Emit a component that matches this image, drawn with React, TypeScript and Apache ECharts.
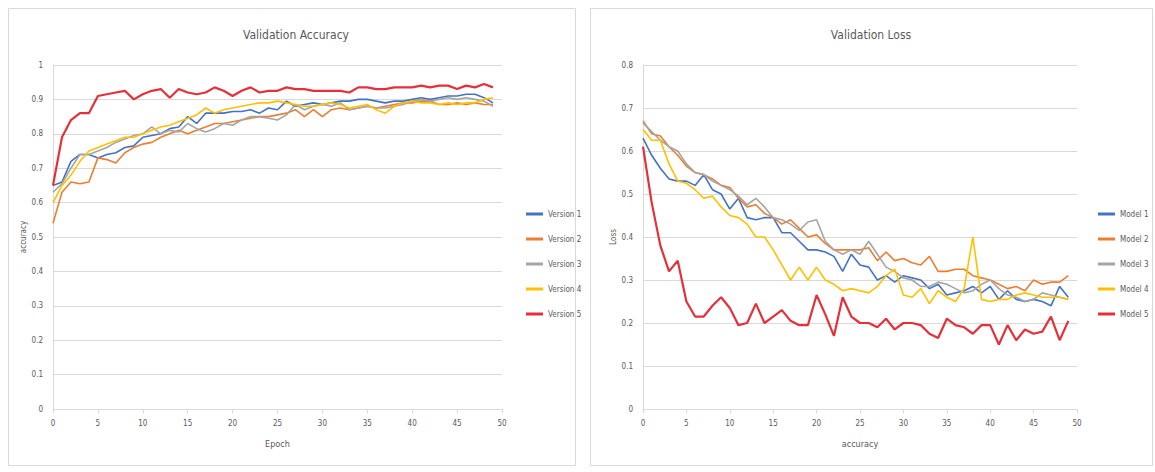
import React, { useEffect, useRef } from "react";
import * as echarts from "echarts";

const epochs: number[] = Array.from({ length: 50 }, (_, i) => i);

const accNames = ["Version 1", "Version 2", "Version 3", "Version 4", "Version 5"];
const lossNames = ["Model 1", "Model 2", "Model 3", "Model 4", "Model 5"];
const colors = ["#4472C4", "#ED7D31", "#A5A5A5", "#FFC000", "#E5303A"];

const accV1 = [0.65, 0.66, 0.72, 0.74, 0.74, 0.73, 0.74, 0.745, 0.76, 0.765, 0.79, 0.795, 0.8, 0.815, 0.82, 0.85, 0.83, 0.86, 0.86, 0.86, 0.865, 0.865, 0.87, 0.86, 0.875, 0.87, 0.895, 0.88, 0.885, 0.89, 0.885, 0.89, 0.895, 0.895, 0.9, 0.9, 0.895, 0.89, 0.895, 0.895, 0.9, 0.905, 0.9, 0.905, 0.91, 0.91, 0.915, 0.915, 0.905, 0.89];
const accV2 = [0.54, 0.63, 0.66, 0.655, 0.66, 0.73, 0.725, 0.715, 0.745, 0.76, 0.77, 0.775, 0.79, 0.8, 0.81, 0.8, 0.81, 0.82, 0.83, 0.83, 0.835, 0.84, 0.845, 0.85, 0.85, 0.855, 0.86, 0.87, 0.85, 0.87, 0.85, 0.87, 0.875, 0.87, 0.875, 0.88, 0.875, 0.88, 0.885, 0.89, 0.89, 0.895, 0.895, 0.885, 0.885, 0.89, 0.885, 0.89, 0.885, 0.885];
const accV3 = [0.63, 0.655, 0.7, 0.74, 0.74, 0.75, 0.76, 0.775, 0.785, 0.795, 0.8, 0.82, 0.8, 0.81, 0.805, 0.83, 0.815, 0.805, 0.815, 0.83, 0.825, 0.84, 0.85, 0.85, 0.845, 0.84, 0.855, 0.885, 0.87, 0.88, 0.885, 0.88, 0.89, 0.87, 0.875, 0.88, 0.875, 0.875, 0.88, 0.885, 0.895, 0.9, 0.895, 0.9, 0.905, 0.9, 0.905, 0.9, 0.895, 0.88];
const accV4 = [0.6, 0.65, 0.68, 0.72, 0.75, 0.76, 0.77, 0.78, 0.79, 0.79, 0.8, 0.81, 0.82, 0.825, 0.835, 0.845, 0.855, 0.875, 0.86, 0.87, 0.875, 0.88, 0.885, 0.89, 0.89, 0.895, 0.89, 0.885, 0.88, 0.88, 0.885, 0.89, 0.885, 0.875, 0.88, 0.885, 0.87, 0.86, 0.88, 0.89, 0.895, 0.89, 0.89, 0.885, 0.89, 0.885, 0.89, 0.89, 0.9, 0.905];
const accV5 = [0.65, 0.79, 0.84, 0.86, 0.86, 0.91, 0.915, 0.92, 0.925, 0.9, 0.915, 0.925, 0.93, 0.905, 0.93, 0.92, 0.915, 0.92, 0.935, 0.925, 0.91, 0.925, 0.935, 0.92, 0.925, 0.925, 0.935, 0.93, 0.93, 0.925, 0.925, 0.925, 0.925, 0.92, 0.935, 0.935, 0.93, 0.93, 0.935, 0.935, 0.935, 0.94, 0.935, 0.94, 0.94, 0.93, 0.94, 0.935, 0.945, 0.935];

const lossM1 = [0.63, 0.59, 0.56, 0.535, 0.53, 0.53, 0.52, 0.545, 0.51, 0.5, 0.465, 0.49, 0.445, 0.44, 0.445, 0.445, 0.41, 0.41, 0.39, 0.37, 0.37, 0.365, 0.355, 0.32, 0.36, 0.335, 0.33, 0.3, 0.31, 0.295, 0.31, 0.305, 0.3, 0.28, 0.29, 0.265, 0.27, 0.275, 0.285, 0.27, 0.285, 0.255, 0.275, 0.255, 0.25, 0.255, 0.25, 0.24, 0.285, 0.26];
const lossM2 = [0.67, 0.64, 0.635, 0.61, 0.59, 0.565, 0.55, 0.545, 0.535, 0.52, 0.515, 0.49, 0.47, 0.475, 0.455, 0.445, 0.43, 0.44, 0.42, 0.4, 0.405, 0.385, 0.37, 0.37, 0.37, 0.37, 0.375, 0.345, 0.365, 0.345, 0.35, 0.34, 0.335, 0.355, 0.32, 0.32, 0.325, 0.325, 0.31, 0.305, 0.3, 0.29, 0.28, 0.285, 0.275, 0.3, 0.29, 0.295, 0.295, 0.31];
const lossM3 = [0.665, 0.645, 0.625, 0.61, 0.6, 0.57, 0.55, 0.545, 0.53, 0.52, 0.51, 0.495, 0.475, 0.49, 0.47, 0.445, 0.44, 0.43, 0.415, 0.435, 0.44, 0.39, 0.37, 0.36, 0.37, 0.36, 0.39, 0.36, 0.33, 0.32, 0.305, 0.3, 0.285, 0.285, 0.295, 0.29, 0.28, 0.27, 0.275, 0.29, 0.3, 0.28, 0.265, 0.26, 0.25, 0.255, 0.27, 0.265, 0.26, 0.255];
const lossM4 = [0.65, 0.625, 0.625, 0.57, 0.53, 0.525, 0.51, 0.49, 0.495, 0.47, 0.45, 0.445, 0.43, 0.4, 0.4, 0.37, 0.335, 0.3, 0.33, 0.3, 0.33, 0.3, 0.29, 0.275, 0.28, 0.275, 0.27, 0.285, 0.31, 0.325, 0.265, 0.26, 0.28, 0.245, 0.275, 0.26, 0.25, 0.28, 0.4, 0.255, 0.25, 0.255, 0.255, 0.265, 0.27, 0.265, 0.26, 0.26, 0.26, 0.255];
const lossM5 = [0.61, 0.48, 0.38, 0.32, 0.345, 0.25, 0.215, 0.215, 0.24, 0.26, 0.235, 0.195, 0.2, 0.245, 0.2, 0.215, 0.23, 0.205, 0.195, 0.195, 0.265, 0.22, 0.17, 0.26, 0.215, 0.2, 0.2, 0.19, 0.21, 0.185, 0.2, 0.2, 0.195, 0.175, 0.165, 0.21, 0.195, 0.19, 0.175, 0.195, 0.195, 0.15, 0.195, 0.16, 0.185, 0.175, 0.18, 0.215, 0.16, 0.205];

const accData = [accV1, accV2, accV3, accV4, accV5];
const lossData = [lossM1, lossM2, lossM3, lossM4, lossM5];

const FONT = "'DejaVu Sans Condensed', 'Liberation Sans', sans-serif";
const TXT = "#595959";
const GRIDC = "#d9d9d9";

function xAxis(gridIndex: number, name: string) {
  return {
    type: "value",
    gridIndex,
    min: 0,
    max: 50,
    interval: 5,
    name,
    nameLocation: "middle",
    nameGap: 30,
    nameTextStyle: { color: TXT, fontSize: 9, fontFamily: FONT },
    axisLine: { show: true, lineStyle: { color: GRIDC } },
    axisTick: { show: true, length: 4, lineStyle: { color: GRIDC } },
    axisLabel: { color: TXT, fontSize: 8, fontFamily: FONT, margin: 10 },
    splitLine: { show: false },
  };
}

function yAxis(gridIndex: number, max: number, name: string) {
  return {
    type: "value",
    gridIndex,
    min: 0,
    max,
    interval: 0.1,
    name,
    nameLocation: "middle",
    nameGap: 26,
    nameTextStyle: { color: TXT, fontSize: 8, fontFamily: FONT },
    axisLine: { show: true, lineStyle: { color: GRIDC } },
    axisTick: { show: false },
    axisLabel: {
      color: TXT,
      fontSize: 8,
      fontFamily: FONT,
      margin: 10,
      formatter: (v: number) => String(Math.round(v * 10) / 10),
    },
    splitLine: { show: true, lineStyle: { color: GRIDC, width: 1 } },
  };
}

function makeSeries(names: string[], data: number[][], idx: number) {
  return names.map((n, i) => ({
    name: n,
    type: "line",
    xAxisIndex: idx,
    yAxisIndex: idx,
    symbol: "none",
    data: data[i].map((v, j) => [epochs[j], v]),
    lineStyle: { color: colors[i], width: i === 4 ? 2.2 : 1.6 },
    itemStyle: { color: colors[i] },
    z: i === 4 ? 5 : 2,
  }));
}

function legend(names: string[], left: number) {
  return {
    data: names,
    orient: "vertical",
    left,
    top: 205,
    itemWidth: 17,
    itemHeight: 3,
    itemGap: 17,
    icon: "rect",
    textStyle: { color: TXT, fontSize: 8, fontFamily: FONT },
  };
}

export default function App() {
  const ref = useRef<HTMLDivElement>(null);
  useEffect(() => {
    if (!ref.current) return;
    const chart = echarts.init(ref.current, undefined, { renderer: "svg" });
    chart.setOption({
      animation: false,
      backgroundColor: "#ffffff",
      title: [
        {
          text: "Validation Accuracy",
          left: 291,
          top: 24,
          textAlign: "center",
          textStyle: { color: TXT, fontSize: 12, fontWeight: "normal", fontFamily: FONT },
        },
        {
          text: "Validation Loss",
          left: 866,
          top: 24,
          textAlign: "center",
          textStyle: { color: TXT, fontSize: 12, fontWeight: "normal", fontFamily: FONT },
        },
      ],
      graphic: [
        { type: "rect", shape: { x: 8.5, y: 8.5, width: 567, height: 457 }, style: { fill: "none", stroke: "#d9d9d9", lineWidth: 1 }, silent: true },
        { type: "rect", shape: { x: 590.5, y: 8.5, width: 562, height: 457 }, style: { fill: "none", stroke: "#d9d9d9", lineWidth: 1 }, silent: true },
      ],
      legend: [legend(accNames, 521), legend(lossNames, 1093)],
      grid: [
        { left: 53, top: 65, width: 449, height: 344 },
        { left: 643, top: 65, width: 434, height: 344 },
      ],
      xAxis: [xAxis(0, "Epoch"), xAxis(1, "accuracy")],
      yAxis: [yAxis(0, 1, "accuracy"), yAxis(1, 0.8, "Loss")],
      series: [...makeSeries(accNames, accData, 0), ...makeSeries(lossNames, lossData, 1)],
    });
    return () => chart.dispose();
  }, []);
  return (
    <div
      ref={ref}
      style={{ position: "fixed", left: 0, top: 0, width: 1155, height: 472 }}
    />
  );
}
